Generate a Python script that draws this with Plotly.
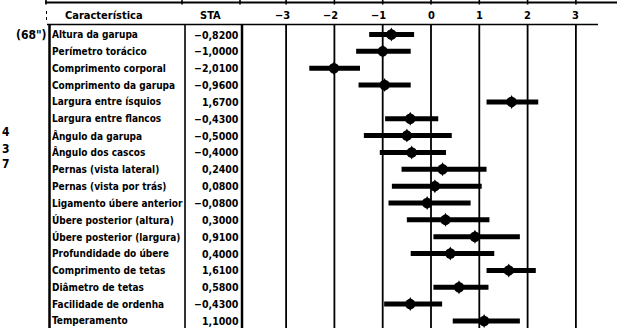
import plotly.graph_objects as go

# Type traits (rows, top to bottom)
traits = [
    "Altura da garupa", "Perímetro torácico", "Comprimento corporal",
    "Comprimento da garupa", "Largura entre ísquios", "Largura entre flancos",
    "Ângulo da garupa", "Ângulo dos cascos", "Pernas (vista lateral)",
    "Pernas (vista por trás)", "Ligamento úbere anterior",
    "Úbere posterior (altura)", "Úbere posterior (largura)",
    "Profundidade do úbere", "Comprimento de tetas", "Diâmetro de tetas",
    "Facilidade de ordenha", "Temperamento",
]
# Standardised transmitting ability and its interval
sta = [-0.82, -1.00, -2.01, -0.96, 1.67, -0.43, -0.50, -0.40, 0.24,
       0.08, -0.08, 0.30, 0.91, 0.40, 1.61, 0.58, -0.43, 1.10]
sta_low = [-1.28, -1.55, -2.52, -1.50, 1.15, -0.95, -1.39, -1.06, -0.61,
           -0.81, -0.88, -0.50, 0.05, -0.42, 1.15, 0.05, -0.97, 0.45]
sta_high = [-0.35, -0.42, -1.47, -0.42, 2.22, 0.15, 0.43, 0.31, 1.15,
            1.05, 0.82, 1.21, 1.84, 1.31, 2.17, 1.19, 0.23, 1.84]
scale_ticks = [-3, -2, -1, 0, 1, 2, 3]
scale_labels = ["−3", "−2", "−1", "0", "1", "2", "3"]

W, H = 617, 328
FONT = "DejaVu Sans Condensed, Liberation Sans Narrow, Roboto, sans-serif"


def px(xp):
    return xp / W


def py(yp):
    return 1 - yp / H


def fmt(v):
    s = f"{abs(v):.4f}".replace(".", ",")
    return ("−" if v < 0 else "") + s


fig = go.Figure()

# interval bars with a rounded centre marker
fig.add_trace(go.Scatter(
    x=sta, y=traits, mode="markers",
    marker=dict(symbol="circle", size=10.5, color="black"),
    error_x=dict(type="data", symmetric=False,
                 array=[h - s for h, s in zip(sta_high, sta)],
                 arrayminus=[s - l for s, l in zip(sta, sta_low)],
                 thickness=5, width=0, color="black"),
    hoverinfo="skip", showlegend=False,
))
fig.add_trace(go.Scatter(
    x=sta, y=traits, mode="markers",
    marker=dict(symbol="diamond-tall", size=10, color="black"),
    hoverinfo="skip", showlegend=False,
))

shapes = []
line_top, line_bot = 24.5, H + 2

# vertical scale lines
for t in scale_ticks:
    shapes.append(dict(type="line", xref="x", yref="paper", x0=t, x1=t,
                       y0=py(line_top), y1=py(line_bot),
                       line=dict(color="black", width=1.8)))

# table frame
for xp, w in [(49.5, 2.5), (185, 1.6), (242, 2.5)]:
    shapes.append(dict(type="line", xref="paper", yref="paper",
                       x0=px(xp), x1=px(xp), y0=py(line_top), y1=py(line_bot),
                       line=dict(color="black", width=w)))
# header rule
shapes.append(dict(type="line", xref="paper", yref="paper",
                   x0=px(47), x1=px(598), y0=py(24.5), y1=py(24.5),
                   line=dict(color="black", width=1.6)))
# bottom edge of the panel above
shapes.append(dict(type="line", xref="paper", yref="paper",
                   x0=px(45), x1=px(617), y0=py(2.5), y1=py(2.5),
                   line=dict(color="black", width=2.2)))
for xp in [46, 182, 240]:
    shapes.append(dict(type="line", xref="paper", yref="paper",
                       x0=px(xp), x1=px(xp), y0=py(0), y1=py(4.5),
                       line=dict(color="black", width=1.6)))
for t in scale_ticks:
    shapes.append(dict(type="line", xref="x", yref="paper",
                       x0=t, x1=t, y0=py(0), y1=py(4.5),
                       line=dict(color="black", width=1.6)))
# faint dotted mark beside the header
shapes.append(dict(type="line", xref="paper", yref="paper",
                   x0=px(46.5), x1=px(46.5), y0=py(11), y1=py(21),
                   line=dict(color="black", width=1, dash="dot")))

ann = []
txt = dict(family=FONT, size=10, color="black")
hdr = dict(family=FONT, size=11, color="black")

ann.append(dict(text="<b>Característica</b>", xref="paper", yref="paper",
                x=px(103.5), y=py(15), xanchor="center", yanchor="middle",
                showarrow=False, font=hdr))
ann.append(dict(text="<b>STA</b>", xref="paper", yref="paper",
                x=px(210), y=py(15), xanchor="center", yanchor="middle",
                showarrow=False, font=hdr))
for t, lab in zip(scale_ticks, scale_labels):
    ann.append(dict(text=f"<b>{lab}</b>", xref="x", yref="paper",
                    x=t, y=py(15), xanchor="center", yanchor="middle",
                    xshift=-4 if t < 0 else 0,
                    showarrow=False, font=hdr))

for name, v in zip(traits, sta):
    ann.append(dict(text=f"<b>{name}</b>", xref="paper", yref="y",
                    x=px(50), y=name, xanchor="left", yanchor="middle",
                    showarrow=False, font=txt))
    ann.append(dict(text=f"<b>{fmt(v)}</b>", xref="paper", yref="y",
                    x=px(241), y=name, xanchor="right", yanchor="middle",
                    showarrow=False, font=dict(family=FONT, size=10.5, color="black")))

ann.append(dict(text='<b>(68")</b>', xref="paper", yref="y",
                x=px(31), y=traits[0], xanchor="center", yanchor="middle",
                showarrow=False, font=dict(family=FONT, size=12, color="black")))
for ch, yp in [("4", 132), ("3", 149), ("7", 164)]:
    ann.append(dict(text=f"<b>{ch}</b>", xref="paper", yref="paper",
                    x=0, y=py(yp), xanchor="left", yanchor="middle",
                    showarrow=False, font=dict(family=FONT, size=12, color="black")))

x0v = -431 / 48.3
x1v = (W - 431) / 48.3
row0, row_step = 34.5, 16.85

fig.update_layout(
    width=W, height=H,
    margin=dict(l=0, r=0, t=0, b=0),
    paper_bgcolor="white", plot_bgcolor="white",
    xaxis=dict(range=[x0v, x1v], visible=False, showgrid=False, zeroline=False),
    yaxis=dict(type="category", categoryorder="array", categoryarray=traits,
               range=[(H - row0) / row_step, -row0 / row_step],
               visible=False, showgrid=False, zeroline=False),
    shapes=shapes, annotations=ann,
)

fig.write_html("out.html")
